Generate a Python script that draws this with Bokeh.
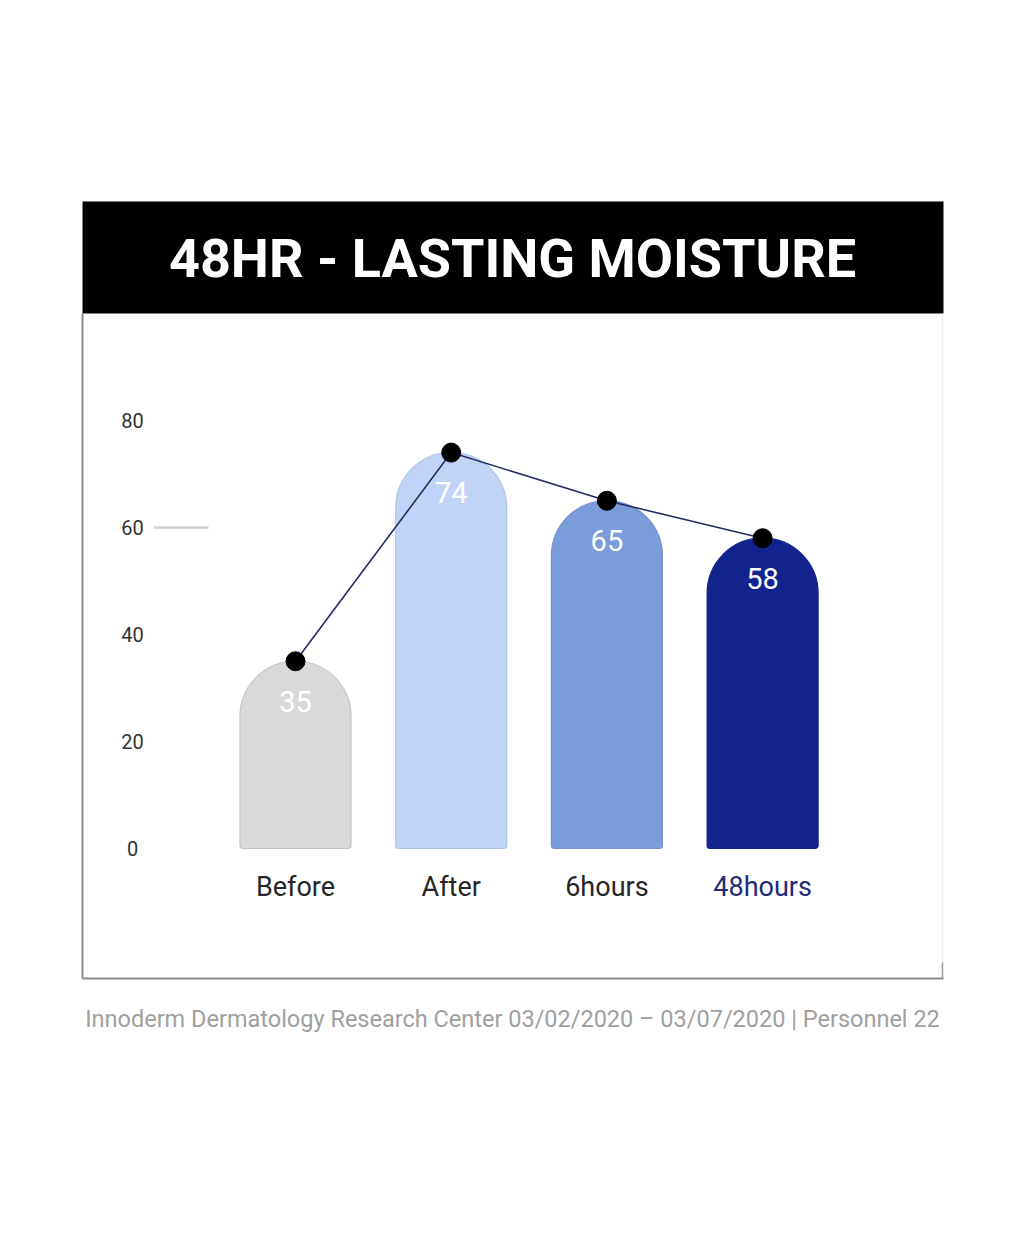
from bokeh.plotting import figure
from bokeh.models import Range1d, ColumnDataSource
from bokeh.core.properties import value
from bokeh.embed import file_html
from bokeh.resources import INLINE

# ---------------- data ----------------
categories = ["Before", "After", "6hours", "48hours"]
moisture = [35, 74, 65, 58]
bar_colors = ["#d9d9d9", "#c2d4f6", "#7b9cdb", "#12238d"]
bar_line_colors = ["#c4c4c4", "#b3c6e8", "#7191cf", "#12238d"]
category_label_colors = ["#262626", "#262626", "#262626", "#1f2a78"]
y_ticks = [0, 20, 40, 60, 80]
y_tick_labels = ["0", "20", "40", "60", "80"]
title_text = "48HR - LASTING MOISTURE"
footer_text = "Innoderm Dermatology Research Center 03/02/2020 \u2013 03/07/2020 | Personnel 22"

# ---------------- layout (pixel geometry) ----------------
W, H = 1008, 1217
PAGE_X0, PAGE_Y0 = 0, 0
BAR_X0, BAR_STEP = 295.0, 155.7      # page x of first bar centre, spacing
Y_ZERO, PX_PER_UNIT = 848.0, 5.35    # page y of value 0, pixels per unit

idx = list(range(len(categories)))
x_range = Range1d((PAGE_X0 - BAR_X0) / BAR_STEP, (PAGE_X0 + W - BAR_X0) / BAR_STEP)
y_range = Range1d((Y_ZERO - (PAGE_Y0 + H)) / PX_PER_UNIT, (Y_ZERO - PAGE_Y0) / PX_PER_UNIT)

p = figure(width=W, height=H, x_range=x_range, y_range=y_range,
           x_axis_location=None, y_axis_location=None,
           toolbar_location=None, output_backend="svg", min_border=0,
           outline_line_color=None, background_fill_color="white",
           border_fill_color="white")
p.grid.visible = False
p.extra_x_ranges = {"px": Range1d(PAGE_X0, PAGE_X0 + W)}
p.extra_y_ranges = {"px": Range1d(PAGE_Y0 + H, PAGE_Y0)}

# title bar
p.quad(left=[82], right=[943], top=[201], bottom=[313], fill_color="black",
       line_color=None, x_range_name="px", y_range_name="px")
p.text(x=[512], y=[258], text=[title_text], x_range_name="px", y_range_name="px",
       text_color="white", text_font=value("Roboto"), text_font_style="bold",
       text_font_size="54px", text_align="center", text_baseline="middle")

# chart box border
p.segment(x0=[82, 82], y0=[313, 978], x1=[82, 943], y1=[978, 978],
          line_color="#8c8c8c", line_width=2, x_range_name="px", y_range_name="px")
p.segment(x0=[942], y0=[315], x1=[942], y1=[965], line_color="#ededed",
          line_width=1.5, x_range_name="px", y_range_name="px")
p.segment(x0=[942], y0=[962], x1=[942], y1=[978], line_color="#9a9a9a",
          line_width=1.5, x_range_name="px", y_range_name="px")

# faint grid remnant at 60
p.segment(x0=[153], y0=[60], x1=[208], y1=[60], line_color="#c4c4c4",
          line_width=2.5, line_alpha=0.8, x_range_name="px")

# y tick labels
p.text(x=[132] * len(y_ticks), y=y_ticks, text=y_tick_labels, x_range_name="px",
       text_color="#333333", text_font=value("Roboto"), text_font_size="20px",
       text_align="center", text_baseline="middle")

# bars
src = ColumnDataSource(dict(x=idx, top=moisture, fill=bar_colors, line=bar_line_colors,
                            lab=[str(v) for v in moisture], cat=categories,
                            catcol=category_label_colors))
p.vbar(x="x", top="top", bottom=0, width=111 / BAR_STEP, source=src,
       fill_color="fill", line_color="line", line_width=1.2,
       border_radius=(55, 55, 3, 3))

# value labels
p.text(x="x", y="top", text="lab", source=src, y_offset=40,
       text_color="white", text_font=value("Roboto"), text_font_size="29px",
       text_align="center", text_baseline="middle")

# connecting line and dots
p.line(x="x", y="top", source=src, line_color="#262c66", line_width=1.6)
p.scatter(x="x", y="top", source=src, size=19, fill_color="black", line_color="black")

# category labels
p.text(x="x", y=0, text="cat", source=src, y_offset=38, text_color="catcol",
       text_font=value("Roboto"), text_font_size="27px",
       text_align="center", text_baseline="middle")

# footer
p.text(x=[512], y=[1018], text=[footer_text], x_range_name="px", y_range_name="px",
       text_color="#a0a0a0", text_font=value("Roboto"), text_font_size="23.5px",
       text_align="center", text_baseline="middle")

open("out.html", "w").write(file_html(p, INLINE))
